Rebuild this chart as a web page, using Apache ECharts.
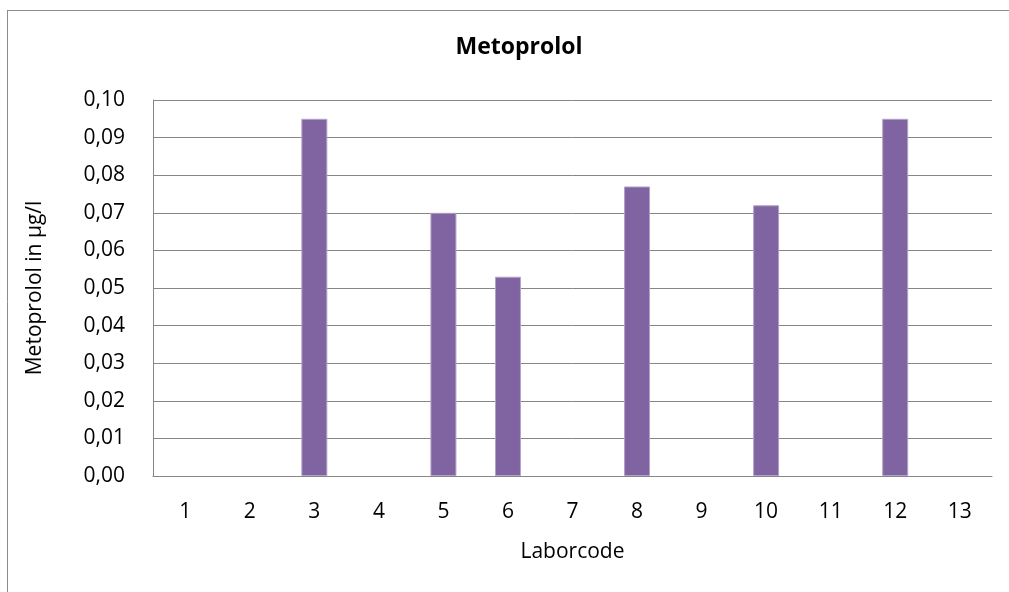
<!DOCTYPE html>
<html>
<head>
<meta charset="utf-8">
<script src="https://cdn.jsdelivr.net/npm/echarts@6/dist/echarts.min.js"></script>
<style>
html,body{margin:0;padding:0;background:#fff;overflow:hidden;}
#chart{width:1009px;height:592px;}
</style>
</head>
<body>
<div id="chart"></div>
<script>
const categories = ['1','2','3','4','5','6','7','8','9','10','11','12','13'];
const values = [null, null, 0.095, null, 0.070, 0.053, null, 0.077, null, 0.072, null, 0.095, null];
const yTicks = { min: 0, max: 0.10, interval: 0.01 };
const titleText = 'Metoprolol';
const xName = 'Laborcode';
const yName = 'Metoprolol in µg/l';

const FONT = '"Open Sans", "Liberation Sans", sans-serif';
const chart = echarts.init(document.getElementById('chart'), null, {renderer: 'canvas'});
chart.setOption({
  animation: false,
  backgroundColor: '#ffffff',
  graphic: [
    { type: 'line', shape: { x1: 7.5, y1: 10, x2: 7.5, y2: 600 },
      style: { stroke: '#8c8c8c', lineWidth: 1 }, silent: true, z: -1 },
    { type: 'line', shape: { x1: 7, y1: 10.5, x2: 1009, y2: 10.5 },
      style: { stroke: '#8c8c8c', lineWidth: 1 }, silent: true, z: -1 }
  ],
  title: {
    text: titleText,
    left: 514, top: 31, textAlign: 'center',
    textStyle: { fontFamily: FONT, fontSize: 23, fontWeight: 'bold', color: '#000' }
  },
  grid: { left: 153, right: 17, top: 100, bottom: 116, containLabel: false },
  xAxis: {
    type: 'category',
    data: categories,
    name: xName,
    nameLocation: 'middle',
    nameGap: 66,
    nameTextStyle: { fontFamily: FONT, fontSize: 21, color: '#000' },
    axisLine: { show: true, lineStyle: { color: '#868686', width: 1 } },
    axisTick: { show: false },
    axisLabel: { fontFamily: FONT, fontSize: 21, color: '#000', margin: 26 }
  },
  yAxis: {
    type: 'value',
    min: yTicks.min, max: yTicks.max, interval: yTicks.interval,
    name: yName,
    nameLocation: 'middle',
    nameGap: 107,
    nameTextStyle: { fontFamily: FONT, fontSize: 21, color: '#000' },
    axisLine: { show: true, lineStyle: { color: '#868686', width: 1 } },
    axisTick: { show: false },
    splitLine: { show: true, lineStyle: { color: '#868686', width: 1 } },
    axisLabel: {
      fontFamily: FONT, fontSize: 21, color: '#000', margin: 28,
      formatter: v => v.toFixed(2).replace('.', ',')
    }
  },
  series: [{
    type: 'bar',
    data: values,
    barWidth: 26,
    itemStyle: { color: '#8064a2', borderColor: '#b3a2c7', borderWidth: 1 }
  }]
});
</script>
</body>
</html>
